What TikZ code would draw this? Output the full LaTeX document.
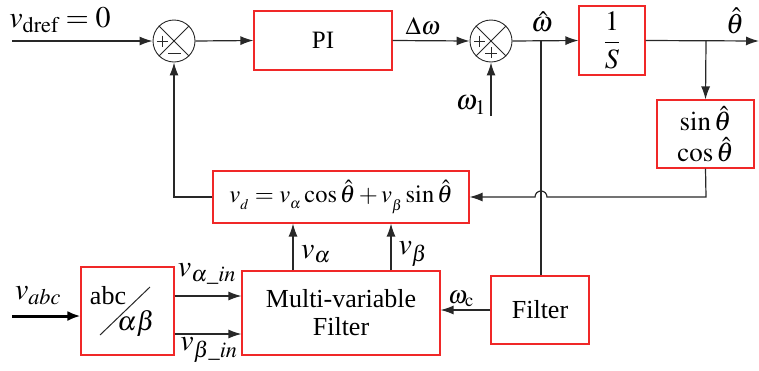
\documentclass[tikz,border=0pt]{standalone}
\usepackage{amsmath}
\usepackage{mathptmx}
\usepackage[no-math]{fontspec}
\setmainfont{Liberation Serif}
\usetikzlibrary{arrows.meta,calc}
\definecolor{boxred}{RGB}{240,40,40}
\definecolor{wire}{RGB}{40,40,40}
\tikzset{
  blk/.style={draw=boxred, line width=1.1pt, rectangle, inner sep=0pt, align=center},
  sumc/.style={draw=wire, line width=0.9pt, circle, minimum size=42pt, inner sep=0pt},
  wr/.style={draw=wire, line width=1.2pt},
  arr/.style={wr, -{Latex[length=13pt,width=9pt]}},
  lbl/.style={inner sep=0pt, font=\fontsize{30}{34}\selectfont},
  sgn/.style={draw=wire, line width=0.9pt}
}
\begin{document}
\begin{tikzpicture}[x=1pt,y=-1pt,font=\fontsize{25}{29}\selectfont]
\useasboundingbox (0,0) rectangle (759,370);
% blocks
\node[blk, minimum width=138pt, minimum height=59pt] (pi) at (323,40.5) {PI};
\node[blk, minimum width=66pt, minimum height=69pt, font=\fontsize{28}{32}\selectfont] (inv) at (612,40.5) {$\dfrac{1}{S}$};
\node[blk, minimum width=97pt, minimum height=68pt, font=\fontsize{27}{31}\selectfont] (sc) at (705.5,134) {$\sin\hat{\theta}$\\[0pt]$\cos\hat{\theta}$};
\node[blk, minimum width=256pt, minimum height=52pt, font=\fontsize{24.5}{28}\selectfont] (vd) at (341,197) {$v_{_d}=v_{_\alpha}\cos\hat{\theta}+v_{_\beta}\sin\hat{\theta}$};
\node[blk, minimum width=198pt, minimum height=84pt, font=\fontsize{26}{30}\selectfont] (mvf) at (341,313) {Multi-variable\\[-2pt]Filter};
\node[blk, minimum width=93pt, minimum height=88pt] (abc) at (127.5,311) {};
\node[blk, minimum width=98pt, minimum height=68pt, font=\fontsize{26}{30}\selectfont] (filt) at (540,310) {Filter};
% abc/alpha beta contents
\coordinate (sl1) at (100,335);
\coordinate (sl2) at (150,287);
\draw[wr, line width=1pt] (sl1) -- (sl2);
\node[inner sep=0pt, font=\fontsize{26}{30}\selectfont] (abct) at (108,296) {abc};
\node[inner sep=0pt, font=\fontsize{27}{30}\selectfont] (abt) at (136,323) {$\alpha\beta$};
% summing junctions
\node[sumc] (s1) at (174,41) {};
\node[sumc] (s2) at (491,41) {};
\foreach \s in {s1,s2}{
  \draw[sgn] (\s.north west) -- (\s.south east);
  \draw[sgn] (\s.north east) -- (\s.south west);
}
\draw[sgn] ($(s1.center)+(-17,0)$) -- ++(11,0);
\draw[sgn] ($(s1.center)+(-11.5,-5.5)$) -- ++(0,11);
\draw[sgn] ($(s1.center)+(-6,12)$) -- ++(13,0);
\draw[sgn] ($(s2.center)+(-17,0)$) -- ++(11,0);
\draw[sgn] ($(s2.center)+(-11.5,-5.5)$) -- ++(0,11);
\draw[sgn] ($(s2.center)+(-6,12)$) -- ++(12,0);
\draw[sgn] ($(s2.center)+(0,6)$) -- ++(0,11);
% coordinates
\coordinate (in1) at (12,41);
\coordinate (w1) at (491,116);
\coordinate (b1) at (541,41);
\coordinate (b2) at (706,41);
\coordinate (out) at (759,41);
\coordinate (fb) at (174,197);
\coordinate (rc) at (706,197);
\coordinate (vin) at (12,316);
% connectors
\draw[arr] (in1) -- (s1.west);
\draw[arr] (s1.east) -- (pi.west);
\draw[arr] (pi.east) -- (s2.west);
\draw[arr] (w1) -- (s2.south);
\draw[arr] (s2.east) -- (inv.west);
\draw[arr] (inv.east) -- (out);
\draw[arr] (b2) -- (sc.north);
\draw[wr] (b1) -- (b1 |- filt.north);
\draw[arr] (sc.south) -- (rc) -- (547,197) arc (0:-180:6) -- (vd.east);
\draw[arr] (vd.west) -- (fb) -- (s1.south);
\draw[arr] (mvf.north -| 293,0) -- (vd.south -| 293,0);
\draw[arr] (mvf.north -| 391,0) -- (vd.south -| 391,0);
\draw[arr] (abc.east |- 0,296) -- (mvf.west |- 0,296);
\draw[arr] (abc.east |- 0,334) -- (mvf.west |- 0,334);
\draw[arr] (filt.west) -- (mvf.east |- filt.west);
\draw[draw=black, line width=3pt, -{Latex[length=13pt,width=10pt]}] (vin) -- (abc.west |- vin);
% labels
\node[lbl] (l1) at (60,20) {$v_{\mathrm{dref}}=0$};
\node[lbl, font=\fontsize{25}{29}\selectfont] (l2) at (423,26) {$\Delta\omega$};
\node[lbl, font=\fontsize{28}{32}\selectfont] (l3) at (542,22) {$\hat{\omega}$};
\node[lbl, font=\fontsize{28}{32}\selectfont] (l4) at (735,21) {$\hat{\theta}$};
\node[lbl, font=\fontsize{28}{32}\selectfont] (l5) at (471,105) {$\omega_{\mathrm{1}}$};
\node[lbl] (l6) at (316,254) {$v_\alpha$};
\node[lbl] (l7) at (413,254) {$v_\beta$};
\node[lbl] (l8) at (207,274) {$v_{\alpha\_in}$};
\node[lbl] (l9) at (209,350) {$v_{\beta\_in}$};
\node[lbl] (l10) at (38,296) {$v_{abc}$};
\node[lbl, font=\fontsize{25}{29}\selectfont] (l11) at (461,299) {$\omega_{\mathrm{c}}$};
\end{tikzpicture}
\end{document}
